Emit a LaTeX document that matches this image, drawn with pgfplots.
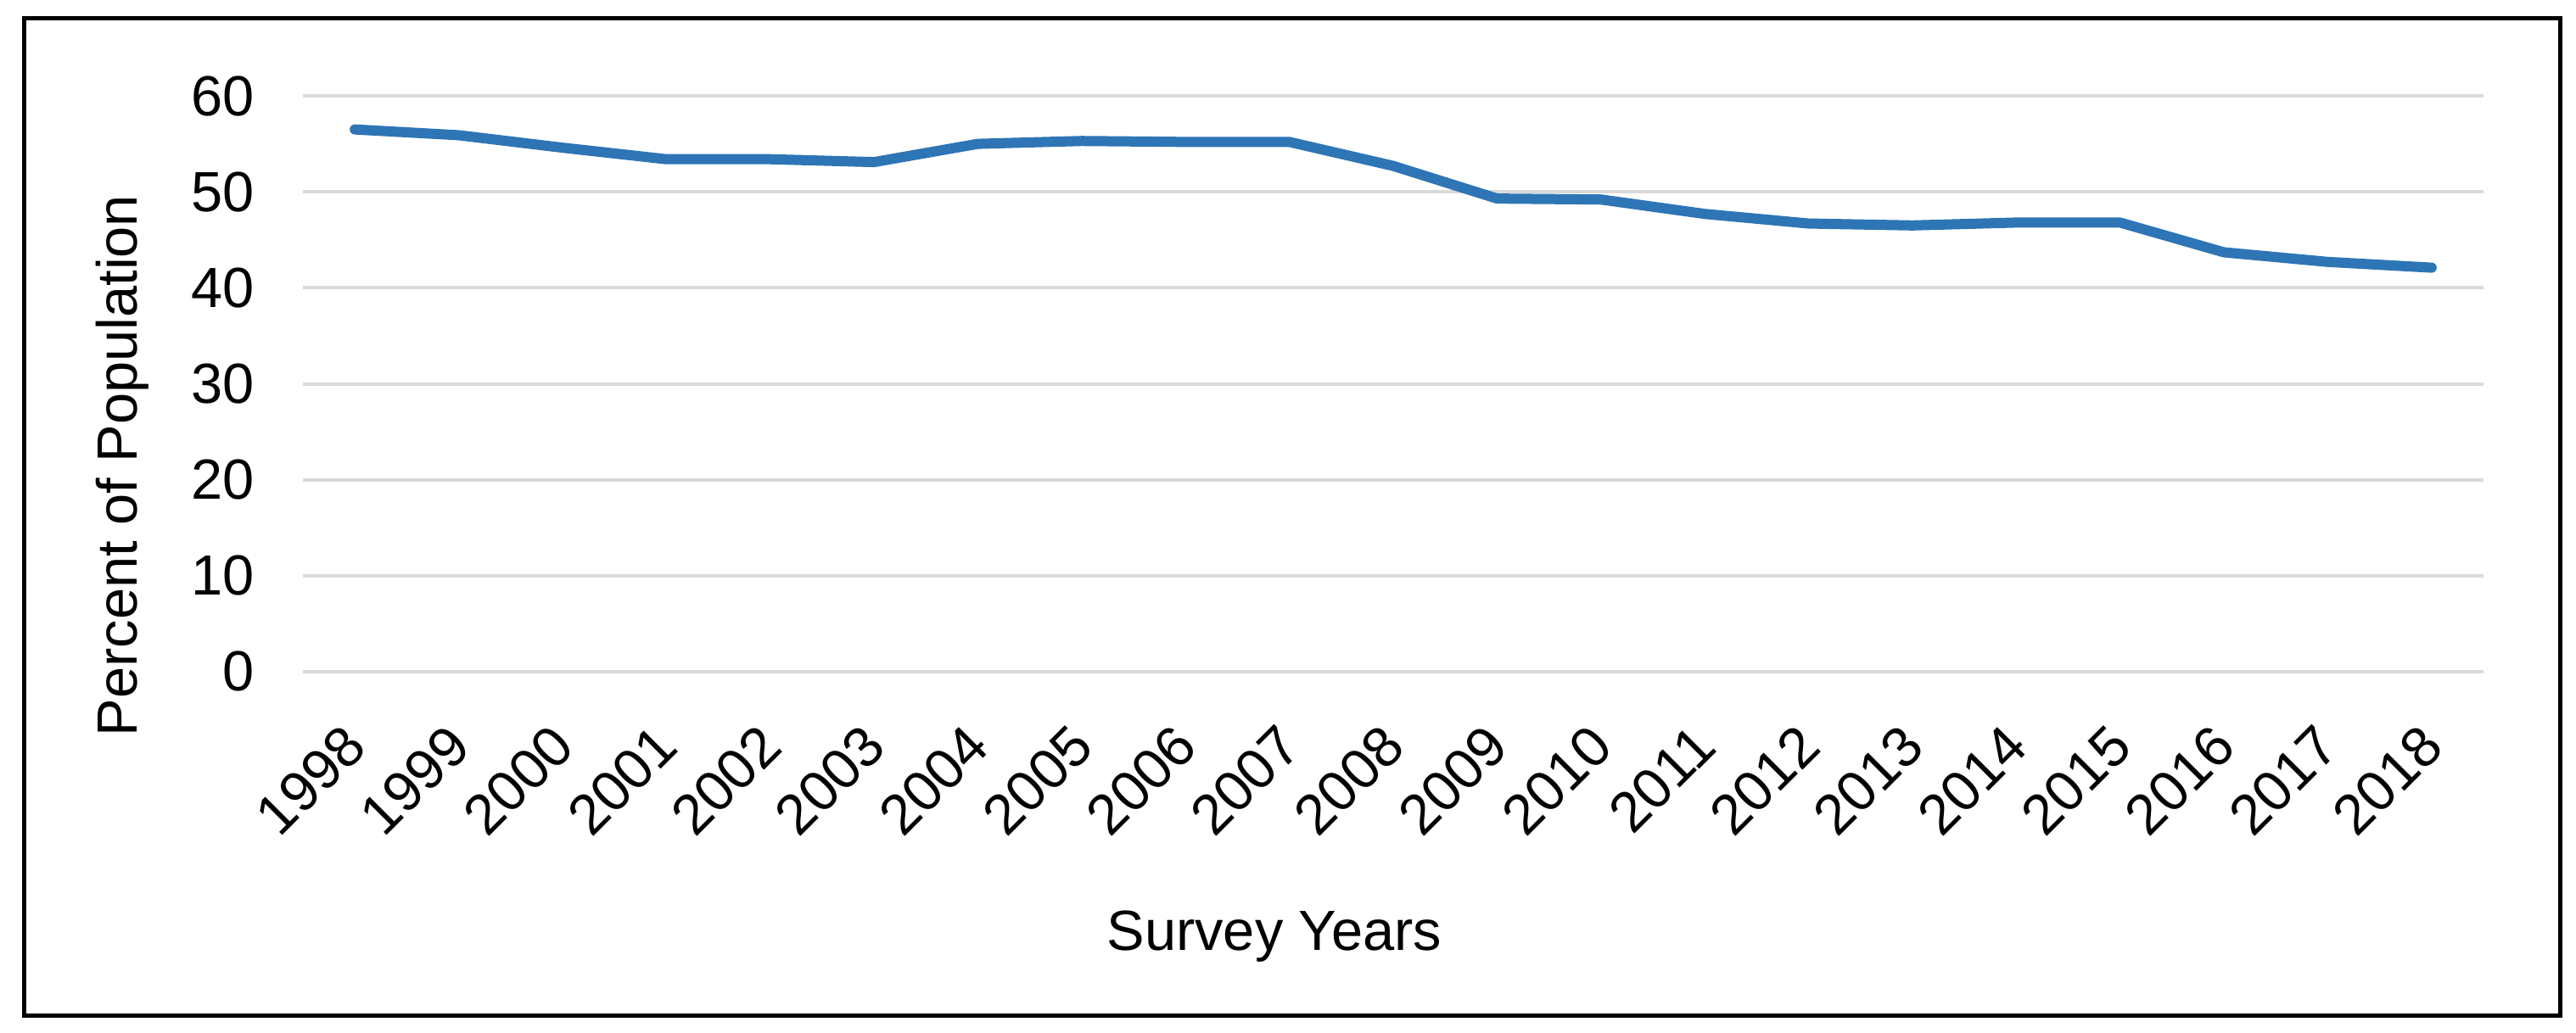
\documentclass[border=0pt]{standalone}
\usepackage{pgfplots}
\pgfplotsset{compat=1.18}
\usepackage{fontspec}
\setmainfont{Liberation Sans}
\definecolor{lineblue}{RGB}{46,117,182}
\definecolor{gridgray}{RGB}{217,217,217}
\begin{document}
\fontsize{19}{23}\selectfont
\begin{tikzpicture}[font=\fontsize{19}{23}\selectfont]
\path[use as bounding box] (0,0) rectangle (30.36,12.17);
\draw[line width=0.05cm] (0.28,0.20) rectangle (30.17,11.95);
\begin{axis}[
  at={(3.57cm,4.25cm)}, anchor=south west,
  scale only axis, width=25.70cm, height=6.79cm,
  xmin=-0.5, xmax=20.5, ymin=0, ymax=60,
  clip=false,
  axis line style={draw=none},
  major tick length=0pt,
  tick style={draw=none},
  ymajorgrids,
  grid style={gridgray, line width=0.04cm},
  ytick={0,10,20,30,40,50,60},
  xtick={0,1,2,3,4,5,6,7,8,9,10,11,12,13,14,15,16,17,18,19,20},
  xticklabels={1998,1999,2000,2001,2002,2003,2004,2005,2006,2007,2008,2009,2010,2011,2012,2013,2014,2015,2016,2017,2018},
  /pgf/number format/assume math mode=true,
  yticklabel style={anchor=east, inner sep=0pt, xshift=-0.57cm},
  xticklabel style={xshift=0.01cm, yshift=-0.75cm, rotate=45, anchor=east, inner sep=0pt},
  ylabel={Percent of Population},
  ylabel style={at={(axis description cs:-0.0827,0.3579)}, anchor=center, inner sep=0pt},
  xlabel={Survey Years},
  xlabel style={at={(axis description cs:0.4455,-0.4595)}, anchor=center, inner sep=0pt},
]
\addplot[lineblue, line width=0.12cm, line join=round, line cap=round, mark=none] coordinates {
(0,56.5) (1,55.9) (2,54.6) (3,53.4) (4,53.4) (5,53.1) (6,55.0) (7,55.3) (8,55.2) (9,55.2)
(10,52.7) (11,49.3) (12,49.2) (13,47.7) (14,46.7) (15,46.5) (16,46.8) (17,46.8) (18,43.7) (19,42.7) (20,42.1)
};
\end{axis}
\end{tikzpicture}
\end{document}
